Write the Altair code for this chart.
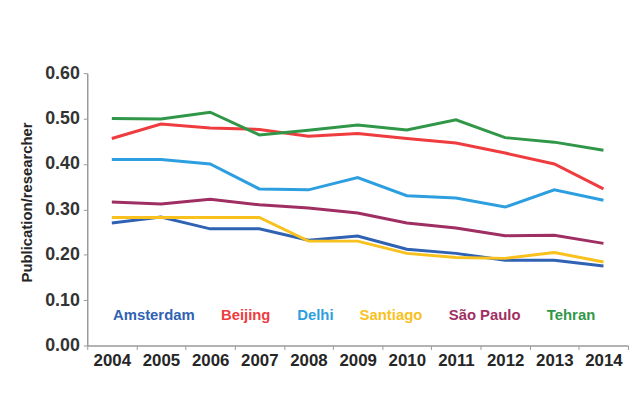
import altair as alt
import pandas as pd

years = [str(y) for y in range(2004, 2015)]
cities = ["Amsterdam", "Beijing", "Delhi", "Santiago", "São Paulo", "Tehran"]
colors = ["#2f62b3", "#ee3c3f", "#2d9fe0", "#f8c11d", "#9f2f62", "#2f9747"]

amsterdam = [0.270, 0.283, 0.257, 0.257, 0.232, 0.241, 0.212, 0.203, 0.188, 0.188, 0.175]
beijing = [0.456, 0.488, 0.479, 0.476, 0.461, 0.467, 0.456, 0.446, 0.424, 0.400, 0.345]
delhi = [0.410, 0.410, 0.400, 0.345, 0.343, 0.370, 0.330, 0.325, 0.305, 0.343, 0.320]
santiago = [0.282, 0.282, 0.282, 0.282, 0.230, 0.230, 0.203, 0.194, 0.192, 0.205, 0.184]
sao_paulo = [0.316, 0.312, 0.322, 0.310, 0.303, 0.292, 0.270, 0.259, 0.242, 0.243, 0.225]
tehran = [0.500, 0.499, 0.514, 0.464, 0.474, 0.486, 0.475, 0.497, 0.458, 0.448, 0.430]

y_ticks = [0.0, 0.1, 0.2, 0.3, 0.4, 0.5, 0.6]

series = [amsterdam, beijing, delhi, santiago, sao_paulo, tehran]
rows = []
for city, vals in zip(cities, series):
    for yr, v in zip(years, vals):
        rows.append({"city": city, "year": yr, "value": v})
df = pd.DataFrame(rows)

label_expr = " : ".join(f"datum.value == '{c}' ? '{col}'" for c, col in zip(cities, colors)) + " : '#333333'"

FONT = "Liberation Sans"

chart = alt.Chart(df).mark_line(strokeWidth=3).encode(
    x=alt.X(
        "year:O",
        sort=years,
        scale=alt.Scale(type="band", paddingInner=0, paddingOuter=0),
        axis=alt.Axis(
            title=None, labelAngle=0, tickBand="extent", tickSize=4,
            tickColor="#9a9a9a", domainColor="#9a9a9a", domainWidth=1.5,
            labelFont=FONT, labelFontSize=17, labelFontWeight="bold",
            labelColor="#262626", labelPadding=3,
        ),
    ),
    y=alt.Y(
        "value:Q",
        scale=alt.Scale(domain=[0, 0.6]),
        axis=alt.Axis(
            values=y_ticks, format=".2f", grid=False, tickSize=4,
            tickColor="#9a9a9a", domainColor="#9a9a9a", domainWidth=1.5,
            labelFont=FONT, labelFontSize=18, labelFontWeight="bold",
            labelColor="#333333", labelPadding=4,
            title="Publication/researcher", titleFont=FONT, titleFontSize=15,
            titleFontWeight="bold", titleColor="#262626", titlePadding=10,
            titleY=130,
        ),
    ),
    color=alt.Color(
        "city:N",
        scale=alt.Scale(domain=cities, range=colors),
        legend=alt.Legend(
            orient="none", legendX=11, legendY=236, direction="horizontal",
            title=None, symbolSize=0, symbolStrokeWidth=0, symbolOpacity=0,
            labelOffset=0, columnPadding=11, labelFont=FONT, labelFontSize=15,
            labelFontWeight="bold", labelLimit=300,
            labelColor={"expr": label_expr},
        ),
    ),
).properties(
    width=546,
    height=275,
    autosize=alt.AutoSizeParams(type="none"),
    padding={"left": 80, "top": 64, "right": 5, "bottom": 30},
    background="white",
).configure_view(stroke=None)

chart.save("out.html", embed_options={"renderer": "svg", "actions": False})
